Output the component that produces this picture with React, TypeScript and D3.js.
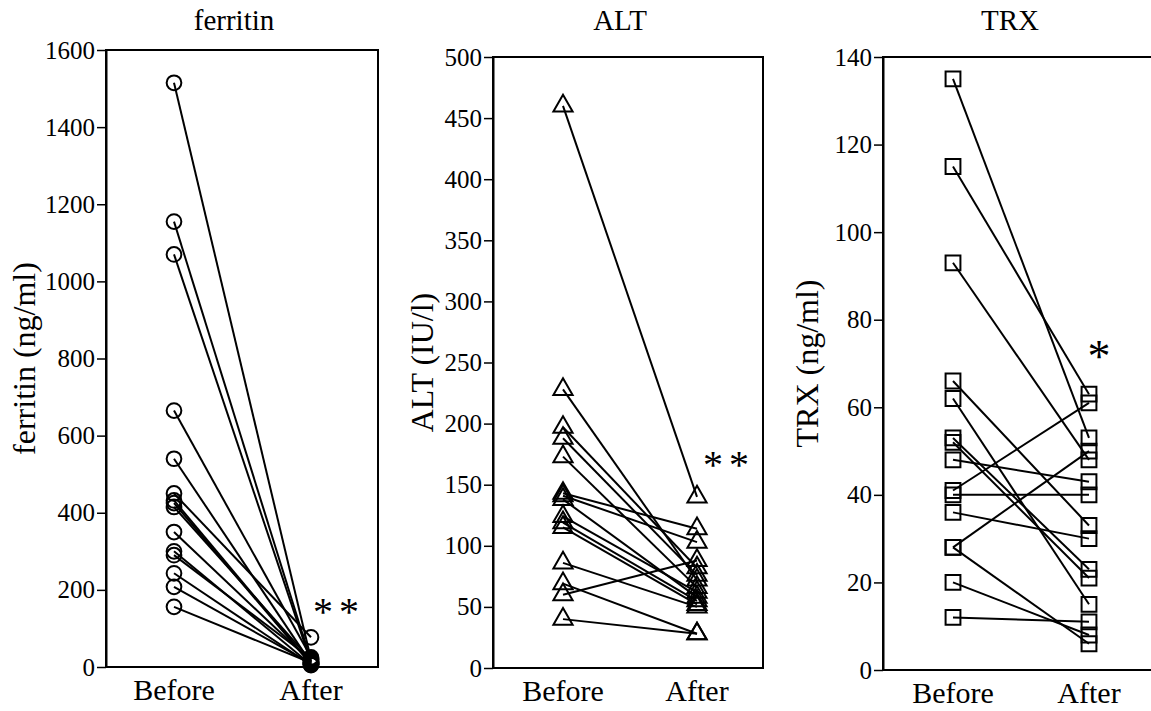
import React, { useEffect, useRef } from 'react';
import * as d3 from 'd3';

// Values (paired: before[i] -> after[i])
const groups = ['Before', 'After'];

const ferritinBefore = [1515, 1155, 1070, 665, 540, 450, 432, 415, 350, 300, 290, 243, 208, 156, 425];
const ferritinAfter = [20, 15, 12, 25, 10, 77, 8, 18, 14, 6, 22, 5, 9, 11, 7];
const ferritinTicks = [0, 200, 400, 600, 800, 1000, 1200, 1400, 1600];

const altBefore = [460, 228, 197, 188, 173, 143, 141, 138, 124, 119, 115, 86, 69, 60, 40];
const altAfter = [140, 72, 82, 76, 66, 114, 103, 58, 62, 55, 52, 50, 28, 88, 28];
const altTicks = [0, 50, 100, 150, 200, 250, 300, 350, 400, 450, 500];

const trxBefore = [135, 115, 93, 66, 62, 53, 52, 48, 41, 40, 36, 28, 28, 20, 12];
const trxAfter = [53, 63, 48, 33, 15, 23, 21, 43, 61, 40, 30, 50, 6, 8, 11];
const trxTicks = [0, 20, 40, 60, 80, 100, 120, 140];

const titles = ['ferritin', 'ALT', 'TRX'];
const yTitles = ['ferritin (ng/ml)', 'ALT (IU/l)', 'TRX (ng/ml)'];
const stars = ['**', '**', '*'];

const FONT = "'Liberation Serif', Tinos, 'Times New Roman', 'DejaVu Serif', serif";

const App = () => {
  const ref = useRef<SVGSVGElement>(null);

  useEffect(() => {
    const svg = d3.select(ref.current);
    svg.selectAll('*').remove();

    const panels = [
      {
        before: ferritinBefore, after: ferritinAfter, ticks: ferritinTicks, max: 1600, marker: 'circle',
        left: 106, right: 378, top: 50, bottom: 667, xB: 174, xA: 311, labelX: 35, titleX: 234,
        starX: 339, starY: 625, starSize: 40,
      },
      {
        before: altBefore, after: altAfter, ticks: altTicks, max: 500, marker: 'triangle',
        left: 493, right: 763, top: 57, bottom: 668, xB: 563, xA: 697, labelX: 433, titleX: 620,
        starX: 729, starY: 478, starSize: 40,
      },
      {
        before: trxBefore, after: trxAfter, ticks: trxTicks, max: 140, marker: 'square',
        left: 883, right: 1160, top: 57, bottom: 670, xB: 953, xA: 1089, labelX: 818, titleX: 1010,
        starX: 1102, starY: 372, starSize: 46,
      },
    ];

    panels.forEach((p, i) => {
      const g = svg.append('g');
      const y = d3.scaleLinear().domain([0, p.max]).range([p.bottom, p.top]);
      const x = d3.scalePoint().domain(groups).range([p.xB, p.xA]);

      // frame
      g.append('rect')
        .attr('x', p.left).attr('y', p.top)
        .attr('width', p.right - p.left).attr('height', p.bottom - p.top)
        .attr('fill', 'none').attr('stroke', '#000').attr('stroke-width', 2);

      // y axis
      const axis = g.append('g')
        .attr('transform', `translate(${p.left},0)`)
        .call(d3.axisLeft(y).tickValues(p.ticks).tickFormat(d3.format('d')).tickSize(9).tickPadding(2).tickSizeOuter(0));
      axis.attr('font-family', null).attr('font-size', null);
      axis.select('.domain').attr('stroke', '#000').attr('stroke-width', 2);
      axis.selectAll('.tick line').attr('stroke', '#000').attr('stroke-width', 1.5);
      axis.selectAll('.tick text')
        .style('font-family', FONT).style('font-size', '25px').attr('fill', '#000');

      // x labels
      g.selectAll('.xl').data(groups).enter().append('text')
        .attr('x', (d) => x(d) as number).attr('y', p.bottom + 33)
        .attr('text-anchor', 'middle').style('font-family', FONT).style('font-size', '30px')
        .text((d) => d);

      // title
      g.append('text')
        .attr('x', p.titleX).attr('y', 30).attr('text-anchor', 'middle')
        .style('font-family', FONT).style('font-size', '29px').text(titles[i]);

      // y title
      g.append('text')
        .attr('transform', `translate(${p.labelX},${(p.top + p.bottom) / 2}) rotate(-90)`)
        .attr('text-anchor', 'middle').style('font-family', FONT).style('font-size', '32px')
        .text(yTitles[i]);

      // paired lines
      const pairs = p.before.map((b, k) => ({ b, a: p.after[k] }));
      g.selectAll('.pl').data(pairs).enter().append('line')
        .attr('x1', x('Before') as number).attr('y1', (d) => y(d.b))
        .attr('x2', x('After') as number).attr('y2', (d) => y(d.a))
        .attr('stroke', '#000').attr('stroke-width', 2);

      // markers
      const pts = [
        ...p.before.map((v) => ({ g: 'Before', v })),
        ...p.after.map((v) => ({ g: 'After', v })),
      ];
      const sym = p.marker === 'circle' ? d3.symbolCircle : p.marker === 'triangle' ? d3.symbolTriangle : d3.symbolSquare;
      const size = p.marker === 'circle' ? 170 : p.marker === 'triangle' ? 160 : 220;
      g.selectAll('.mk').data(pts).enter().append('path')
        .attr('d', d3.symbol().type(sym).size(size))
        .attr('transform', (d) => `translate(${x(d.g)},${y(d.v)})`)
        .attr('fill', 'none').attr('stroke', '#000').attr('stroke-width', 2);

      // significance
      g.append('text')
        .attr('x', p.starX).attr('y', p.starY).attr('text-anchor', 'middle')
        .style('font-family', FONT).style('font-size', `${p.starSize}px`).attr('letter-spacing', 6)
        .text(stars[i]);
    });
  }, []);

  return (
    <svg ref={ref} width={1151} height={711}
      style={{ position: 'absolute', left: 0, top: 0, background: '#fff' }} />
  );
};

export default App;
